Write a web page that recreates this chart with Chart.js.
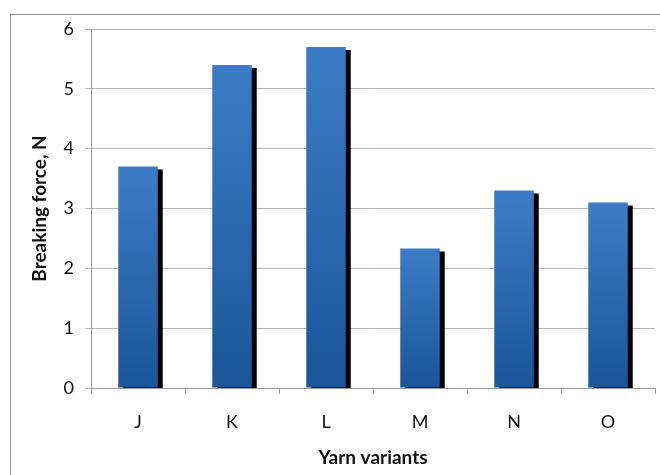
<!DOCTYPE html>
<html lang="en">
<head>
  <meta charset="UTF-8">
  <title>Breaking force by yarn variant</title>
  <script src="https://cdn.jsdelivr.net/npm/chart.js"></script>
  <style>
    body {
      margin: 0;
      background: #fff;
      font-family: Lato, "Open Sans", sans-serif;
    }

    .frame {
      position: absolute;
      left: 10px;
      top: 14px;
      width: 700px;
      height: 500px;
      border: 1px solid #8f8f8f;
    }

    #chartCanvas {
      position: absolute;
      left: 0;
      top: 0;
    }
  </style>
</head>
<body>
  <div class="frame"></div>
  <canvas id="chartCanvas" width="660" height="475"></canvas>

  <script>
    // data
    const variants = ["J", "K", "L", "M", "N", "O"];
    const breakingForce = [3.7, 5.4, 5.7, 2.33, 3.3, 3.1];
    const yTicks = [0, 1, 2, 3, 4, 5, 6];

    // each bar gets its own gradient, light on top, dark at the bottom
    function barGradient(ctx) {
      const chart = ctx.chart;
      if (!chart.chartArea || ctx.type !== "data") return "#2f6cb5";
      const y = chart.scales.y;
      const top = y.getPixelForValue(ctx.raw);
      const bottom = y.getPixelForValue(0);
      const g = chart.ctx.createLinearGradient(0, top, 0, bottom);
      g.addColorStop(0, "#3c7cc7");
      g.addColorStop(1, "#1a5599");
      return g;
    }

    // black drop shadow under the bars
    const barShadow = {
      id: "barShadow",
      beforeDatasetDraw(chart) {
        const c = chart.ctx;
        c.save();
        c.shadowColor = "#000";
        c.shadowBlur = 0;
        c.shadowOffsetX = 5;
        c.shadowOffsetY = 3;
      },
      afterDatasetDraw(chart) {
        chart.ctx.restore();
      }
    };

    const ctx = document.getElementById("chartCanvas").getContext("2d");
    new Chart(ctx, {
      type: "bar",
      data: {
        labels: variants,
        datasets: [{
          label: "Breaking force, N",
          data: breakingForce,
          backgroundColor: barGradient,
          borderWidth: 0,
          categoryPercentage: 1,
          barPercentage: 0.42
        }]
      },
      options: {
        responsive: false,
        animation: false,
        layout: { padding: { top: 29, right: 5, left: 0, bottom: 0 } },
        plugins: {
          legend: { display: false },
          tooltip: { enabled: false }
        },
        scales: {
          x: {
            afterFit(scale) { scale.height = 87; },
            grid: {
              offset: true,
              drawOnChartArea: false,
              drawTicks: true,
              tickLength: 6,
              color: "#9a9a9a"
            },
            border: { color: "#9a9a9a" },
            ticks: {
              padding: 17,
              color: "#111",
              font: { family: "Lato", size: 18 }
            },
            title: {
              display: true,
              text: "Yarn variants",
              color: "#111",
              padding: { bottom: 6, top: 0 },
              font: { family: "Lato", size: 19, weight: "bold" }
            }
          },
          y: {
            min: 0,
            max: 6,
            afterFit(scale) { scale.width = 91; },
            afterBuildTicks(scale) { scale.ticks = yTicks.map(v => ({ value: v })); },
            grid: {
              color: "#b4b4b4",
              tickLength: 6
            },
            border: { color: "#9a9a9a" },
            ticks: {
              padding: 11,
              color: "#111",
              font: { family: "Lato", size: 18 }
            },
            title: {
              display: true,
              text: "Breaking force, N",
              color: "#111",
              padding: { top: 28, bottom: 0 },
              font: { family: "Lato", size: 19, weight: "bold" }
            }
          }
        }
      },
      plugins: [barShadow]
    });
  </script>
</body>
</html>
